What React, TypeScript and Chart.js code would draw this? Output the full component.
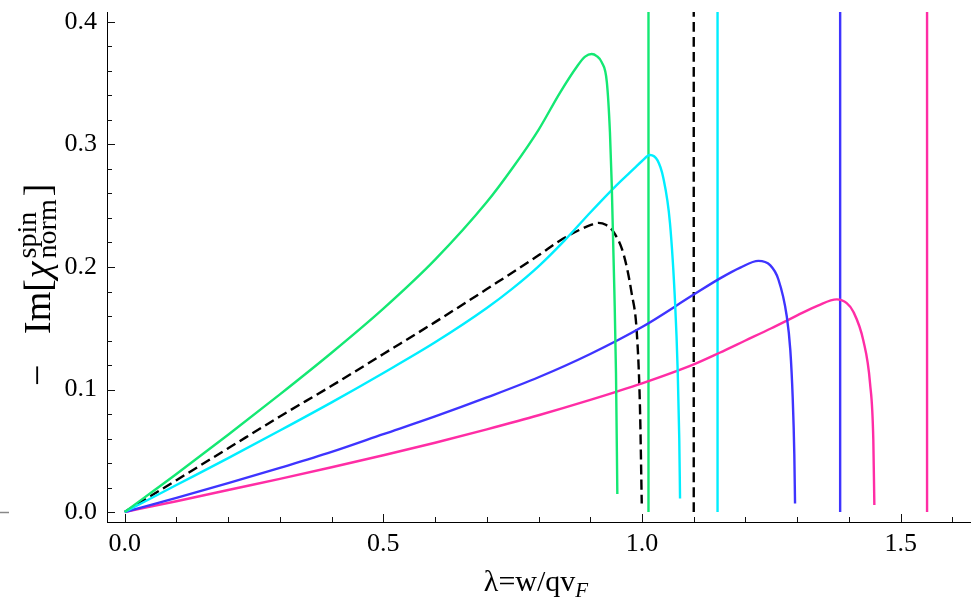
import React, { useEffect, useRef } from "react";
import { Chart, registerables } from "chart.js";

Chart.register(...registerables);

// ---- data ----
const greenX = [0, 0.1, 0.2, 0.3, 0.4, 0.5, 0.6, 0.7, 0.75, 0.8, 0.841, 0.874, 0.89, 0.9027, 0.9124, 0.922, 0.932, 0.938, 0.9414, 0.9465, 0.9497, 0.9523];
const greenY = [0, 0.031, 0.063, 0.096, 0.13, 0.166, 0.206, 0.253, 0.281, 0.312, 0.342, 0.3635, 0.3717, 0.3739, 0.3722, 0.3672, 0.351, 0.31, 0.2686, 0.1812, 0.1132, 0.0147];

const cyanX = [0, 0.1, 0.2, 0.3, 0.4, 0.5, 0.6, 0.7, 0.75, 0.8, 0.85, 0.9, 0.95, 0.985, 1.0, 1.0155, 1.03, 1.041, 1.054, 1.064, 1.069, 1.072, 1.0735];
const cyanY = [0, 0.022, 0.044, 0.0665, 0.0895, 0.1135, 0.1385, 0.1665, 0.1825, 0.2005, 0.2215, 0.2445, 0.2665, 0.2805, 0.2865, 0.2914, 0.287, 0.273, 0.236, 0.17, 0.115, 0.06, 0.011];

const blackX = [0, 0.1, 0.2, 0.3, 0.4, 0.5, 0.6, 0.7, 0.8, 0.841, 0.88, 0.9, 0.9155, 0.93, 0.9446, 0.964, 0.98, 0.99, 0.996, 0.9995];
const blackY = [0, 0.026, 0.052, 0.078, 0.103, 0.129, 0.155, 0.182, 0.2095, 0.2215, 0.2305, 0.2342, 0.236, 0.2345, 0.2288, 0.211, 0.1785, 0.146, 0.086, 0.007];

const blueX = [0, 0.1, 0.2, 0.3, 0.4, 0.5, 0.6, 0.7, 0.8, 0.9, 1.0, 1.1, 1.15, 1.19, 1.225, 1.2476, 1.2635, 1.2797, 1.2867, 1.2913, 1.2944, 1.2958];
const blueY = [0, 0.0115, 0.0235, 0.036, 0.049, 0.0635, 0.078, 0.0935, 0.11, 0.129, 0.151, 0.1775, 0.1905, 0.1995, 0.205, 0.2015, 0.19, 0.16, 0.132, 0.093, 0.047, 0.007];

const pinkX = [0, 0.1, 0.2, 0.3, 0.4, 0.5, 0.6, 0.7, 0.8, 0.9, 1.0, 1.1, 1.15, 1.2, 1.25, 1.3, 1.34, 1.3764, 1.3957, 1.4085, 1.4278, 1.4408, 1.4471, 1.4491];
const pinkY = [0, 0.0088, 0.018, 0.027, 0.0365, 0.0463, 0.0565, 0.0675, 0.079, 0.0915, 0.105, 0.1205, 0.13, 0.14, 0.15, 0.1605, 0.1685, 0.1736, 0.1705, 0.1635, 0.14, 0.105, 0.059, 0.0057];

// vertical lines (asymptotes)
const greenAsym = 1.0125;
const blackAsym = 1.1;
const cyanAsym = 1.146;
const blueAsym = 1.383;
const pinkAsym = 1.551;

const xTickLabels = [0, 0.5, 1.0, 1.5];
const yTickLabels = [0, 0.1, 0.2, 0.3, 0.4];
const xMinorStep = 0.1;
const yMinorStep = 0.02;

const X_MIN = -0.0342;
const X_MAX = 1.634;
const Y_MIN = -0.00816;
const Y_MAX = 0.40816;

const GREEN = "rgb(20,232,115)";
const CYAN = "rgb(0,238,255)";
const BLUE = "rgb(62,52,255)";
const PINK = "rgb(255,45,165)";
const BLACK = "#000";

const SERIF = "'Liberation Serif', 'Times New Roman', serif";

const pts = (xs: number[], ys: number[]) => xs.map((x, i) => ({ x, y: ys[i] }));
const vline = (x: number) => [
  { x, y: 0 },
  { x, y: Y_MAX + 0.02 },
];

const decorPlugin = {
  id: "decor",
  afterDraw(chart: any) {
    const ctx = chart.ctx as CanvasRenderingContext2D;
    const xs = chart.scales.x;
    const ys = chart.scales.y;
    const { left, bottom } = chart.chartArea;
    ctx.save();
    ctx.strokeStyle = "#111";
    ctx.lineWidth = 1;
    // x ticks (inward)
    for (let i = 0; i * xMinorStep <= X_MAX + 1e-9; i++) {
      const v = i * xMinorStep;
      const px = Math.round(xs.getPixelForValue(v)) + 0.5;
      const len = i % 5 === 0 ? 8 : 5;
      ctx.beginPath();
      ctx.moveTo(px, bottom);
      ctx.lineTo(px, bottom - len);
      ctx.stroke();
    }
    // y ticks (inward)
    for (let i = 0; i * yMinorStep <= Y_MAX + 1e-9; i++) {
      const v = i * yMinorStep;
      const py = Math.round(ys.getPixelForValue(v)) + 0.5;
      const len = i % 5 === 0 ? 8 : 5;
      ctx.beginPath();
      ctx.moveTo(left, py);
      ctx.lineTo(left + len, py);
      ctx.stroke();
    }
    // stray mark at far left
    ctx.strokeStyle = "#888";
    ctx.lineWidth = 1.5;
    ctx.beginPath();
    ctx.moveTo(0, 512.5);
    ctx.lineTo(9, 512.5);
    ctx.stroke();

    ctx.fillStyle = "#000";
    // x title: λ=w/qv_F
    const mainX = "λ=w/qv";
    ctx.font = `30px ${SERIF}`;
    const wMain = ctx.measureText(mainX).width;
    ctx.font = `italic 21px ${SERIF}`;
    const wF = ctx.measureText("F").width;
    const total = wMain + wF;
    const cx = 536;
    const x0 = cx - total / 2;
    ctx.textBaseline = "alphabetic";
    ctx.textAlign = "left";
    ctx.font = `30px ${SERIF}`;
    ctx.fillText(mainX, x0, 591);
    ctx.font = `italic 21px ${SERIF}`;
    ctx.fillText("F", x0 + wMain, 597);

    // y title: − Im[χ^spin_norm]
    ctx.save();
    ctx.translate(50, 266);
    ctx.rotate(-Math.PI / 2);
    const big = `38px ${SERIF}`;
    const bigIt = `italic 38px ${SERIF}`;
    const small = `28px ${SERIF}`;
    ctx.font = big;
    ctx.fillText("−", -120, 0);
    let u = -68;
    ctx.fillText("Im[", u, 0);
    u += ctx.measureText("Im[").width + 1;
    ctx.font = bigIt;
    ctx.fillText("χ", u, 0);
    u += ctx.measureText("χ").width + 3;
    ctx.font = small;
    ctx.fillText("spin", u, -14);
    ctx.fillText("norm", u, 6);
    u += Math.max(ctx.measureText("spin").width, ctx.measureText("norm").width) + 3;
    ctx.font = big;
    ctx.fillText("]", u, 0);
    ctx.restore();

    ctx.restore();
  },
};

export default function App() {
  const ref = useRef<HTMLCanvasElement | null>(null);

  useEffect(() => {
    if (!ref.current) return;
    const curve = (data: any[], color: string, dashed = false) => ({
      data,
      borderColor: color,
      backgroundColor: color,
      borderWidth: 2.4,
      borderDash: dashed ? [10, 5] : [],
      pointRadius: 0,
      fill: false,
      cubicInterpolationMode: "monotone" as const,
    });
    const zeroPad = (s: any) => {
      s.paddingTop = 0;
      s.paddingBottom = 0;
      s.paddingLeft = 0;
      s.paddingRight = 0;
    };
    const chart = new Chart(ref.current, {
      type: "line",
      data: {
        datasets: [
          curve(pts(greenX, greenY), GREEN),
          curve(pts(cyanX, cyanY), CYAN),
          curve(pts(blueX, blueY), BLUE),
          curve(pts(pinkX, pinkY), PINK),
          curve(pts(blackX, blackY), BLACK, true),
          curve(vline(greenAsym), GREEN),
          curve(vline(cyanAsym), CYAN),
          curve(vline(blueAsym), BLUE),
          curve(vline(pinkAsym), PINK),
          curve(vline(blackAsym), BLACK, true),
        ],
      },
      options: {
        animation: false,
        responsive: false,
        layout: { padding: { left: 0, right: 4, top: 12, bottom: 0 } },
        plugins: {
          legend: { display: false },
          tooltip: { enabled: false },
        },
        scales: {
          x: {
            type: "linear",
            min: X_MIN,
            max: X_MAX,
            afterBuildTicks: (s: any) => {
              s.ticks = xTickLabels.map((v) => ({ value: v }));
            },
            afterFit: (s: any) => {
              s.height = 81;
              zeroPad(s);
            },
            ticks: {
              callback: (v: any) => Number(v).toFixed(1),
              font: { family: SERIF, size: 26 },
              color: "#000",
              padding: 7,
              maxRotation: 0,
              autoSkip: false,
            },
            grid: { display: false, drawTicks: false },
            border: { display: true, color: "#000", width: 1 },
          },
          y: {
            type: "linear",
            min: Y_MIN,
            max: Y_MAX,
            afterBuildTicks: (s: any) => {
              s.ticks = yTickLabels.map((v) => ({ value: v }));
            },
            afterFit: (s: any) => {
              s.width = 107;
              zeroPad(s);
            },
            ticks: {
              callback: (v: any) => Number(v).toFixed(1),
              font: { family: SERIF, size: 26 },
              color: "#000",
              padding: 10,
              autoSkip: false,
            },
            grid: { display: false, drawTicks: false },
            border: { display: true, color: "#000", width: 1 },
          },
        },
      },
      plugins: [decorPlugin],
    });
    return () => chart.destroy();
  }, []);

  return (
    <div style={{ position: "fixed", left: 0, top: 0, width: 974, height: 603, background: "#fff" }}>
      <canvas ref={ref} width={974} height={603} style={{ display: "block" }} />
    </div>
  );
}
